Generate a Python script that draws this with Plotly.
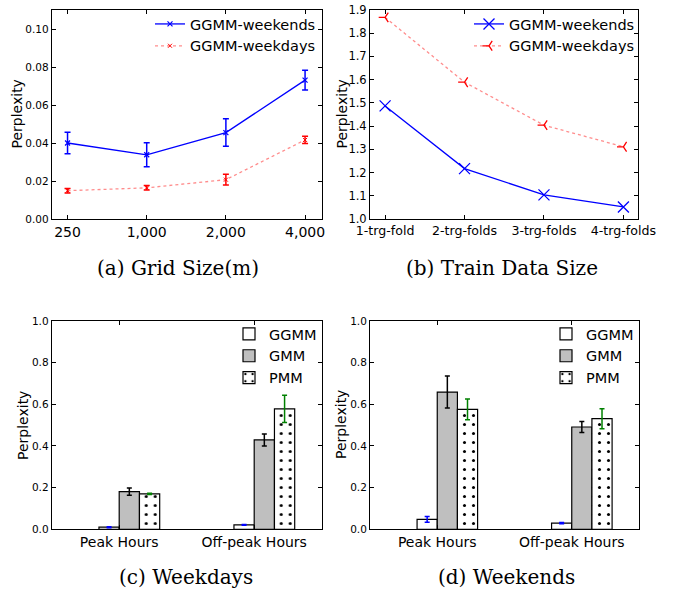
import plotly.graph_objects as go

# ---------------- data ----------------
# (a) Grid Size(m)
grid_sizes = ["250", "1,000", "2,000", "4,000"]
a_weekends = [0.0400, 0.0338, 0.0455, 0.0731]
a_weekends_err = [0.0057, 0.0063, 0.0072, 0.0052]
a_weekdays = [0.0149, 0.0164, 0.0207, 0.0416]
a_weekdays_err = [0.0012, 0.0012, 0.0028, 0.0019]

# (b) Train Data Size
train_sizes = ["1-trg-fold", "2-trg-folds", "3-trg-folds", "4-trg-folds"]
b_weekends = [1.487, 1.217, 1.104, 1.052]
b_weekdays = [1.868, 1.589, 1.404, 1.311]

# (c) Weekdays / (d) Weekends
periods = ["Peak Hours", "Off-peak Hours"]
models = ["GGMM", "GMM", "PMM"]
c_ggmm = [0.010, 0.021]
c_ggmm_err = [0.002, 0.002]
c_gmm = [0.181, 0.429]
c_gmm_err = [0.017, 0.029]
c_pmm = [0.170, 0.578]
c_pmm_err = [0.003, 0.065]
d_ggmm = [0.048, 0.030]
d_ggmm_err = [0.014, 0.003]
d_gmm = [0.659, 0.491]
d_gmm_err = [0.077, 0.026]
d_pmm = [0.576, 0.531]
d_pmm_err = [0.050, 0.048]

captions = ["(a) Grid Size(m)", "(b) Train Data Size", "(c) Weekdays", "(d) Weekends"]

# ---------------- layout helpers ----------------
W, H = 673, 593
def px_x(v):
    return v / W
def px_y(v):
    return 1 - v / H

BLUE = "#0000ff"
RED = "#ff0000"
PINK = "rgba(255,0,0,0.45)"
GREEN = "#008000"
SANS = "DejaVu Sans"

fig = go.Figure()

# ---- (a)
fig.add_trace(go.Scatter(
    x=grid_sizes, y=a_weekends, mode="lines+markers", name="GGMM-weekends",
    line=dict(color=BLUE, width=1.3),
    marker=dict(symbol="x-thin", size=5, line=dict(color=BLUE, width=1.2)),
    error_y=dict(type="data", array=a_weekends_err, color=BLUE, thickness=1.5, width=3),
    xaxis="x", yaxis="y", legend="legend"))
fig.add_trace(go.Scatter(
    x=grid_sizes, y=a_weekdays, mode="lines+markers", name="GGMM-weekdays",
    line=dict(color=PINK, width=1.3, dash="dot"),
    marker=dict(symbol="x-thin", size=4, line=dict(color=RED, width=1)),
    error_y=dict(type="data", array=a_weekdays_err, color=RED, thickness=1.5, width=3),
    xaxis="x", yaxis="y", legend="legend"))

# ---- (b)
fig.add_trace(go.Scatter(
    x=train_sizes, y=b_weekends, mode="lines+markers", name="GGMM-weekends",
    line=dict(color=BLUE, width=1.3),
    marker=dict(symbol="x-thin", size=11, line=dict(color=BLUE, width=1.3)),
    xaxis="x2", yaxis="y2", legend="legend2"))
fig.add_trace(go.Scatter(
    x=train_sizes, y=b_weekdays, mode="lines+markers", name="GGMM-weekdays",
    line=dict(color=PINK, width=1.3, dash="dot"),
    marker=dict(symbol="y-left", size=8, line=dict(color=RED, width=1.3)),
    xaxis="x2", yaxis="y2", legend="legend2"))

# ---- (c), (d) bars
bar_w = 0.15
ind = list(range(len(periods)))
bar_styles = {
    "GGMM": dict(color="white", pattern=None, err=BLUE),
    "GMM": dict(color="#bfbfbf", pattern=None, err="black"),
    "PMM": dict(color="white", pattern=dict(shape=".", fgcolor="black", bgcolor="white",
                                            fgopacity=1, size=9, solidity=0.09), err=GREEN),
}
panels = [
    ("x3", "y3", "legend3", [c_ggmm, c_gmm, c_pmm], [c_ggmm_err, c_gmm_err, c_pmm_err]),
    ("x4", "y4", "legend4", [d_ggmm, d_gmm, d_pmm], [d_ggmm_err, d_gmm_err, d_pmm_err]),
]
for xa, ya, lg, vals, errs in panels:
    for k, m in enumerate(models):
        st = bar_styles[m]
        marker = dict(color=st["color"], line=dict(color="black", width=1.2))
        if st["pattern"] is not None:
            marker["pattern"] = st["pattern"]
        fig.add_trace(go.Bar(
            x=ind, y=vals[k], name=m, offset=k * bar_w, width=bar_w,
            marker=marker,
            error_y=dict(type="data", array=errs[k], color=st["err"], thickness=1.5, width=2.5),
            xaxis=xa, yaxis=ya, legend=lg))

# ---------------- axes ----------------
axis_common = dict(showline=True, linecolor="black", linewidth=1, mirror="ticks",
                   ticks="inside", ticklen=4, tickcolor="black", tickwidth=1,
                   showgrid=False, zeroline=False, automargin=False)

ax_a = [51.7, 321.7]
ax_b = [370, 637.7]
ax_d = [370, 639]
ay_top = [10, 219]
ay_bot = [321, 529.3]

fig.update_layout(
    xaxis=dict(domain=[px_x(ax_a[0]), px_x(ax_a[1])], type="category", range=[-0.2, 3.21],
               anchor="y", tickfont=dict(family=SANS, size=14, color="black"), **axis_common),
    yaxis=dict(domain=[px_y(ay_top[1]), px_y(ay_top[0])], range=[0, 0.11], dtick=0.02,
               tickformat=".2f", anchor="x",
               tickfont=dict(family=SANS, size=10.5, color="black"), **axis_common),
    xaxis2=dict(domain=[px_x(ax_b[0]), px_x(ax_b[1])], type="category", range=[-0.19, 3.18],
                anchor="y2", tickfont=dict(family=SANS, size=12.6, color="black"), **axis_common),
    yaxis2=dict(domain=[px_y(ay_top[1]), px_y(ay_top[0])], range=[1.0, 1.9], dtick=0.1,
                tickformat=".1f", anchor="x2",
                tickfont=dict(family=SANS, size=11.5, color="black"), **axis_common),
    xaxis3=dict(domain=[px_x(ax_a[0]), px_x(ax_a[1])], range=[-0.35, 1.65],
                tickvals=[i + bar_w for i in ind], ticktext=periods, anchor="y3",
                tickfont=dict(family=SANS, size=14, color="black"), **axis_common),
    yaxis3=dict(domain=[px_y(ay_bot[1]), px_y(ay_bot[0])], range=[0, 1.0], dtick=0.2,
                tickformat=".1f", anchor="x3",
                tickfont=dict(family=SANS, size=10.5, color="black"), **axis_common),
    xaxis4=dict(domain=[px_x(ax_d[0]), px_x(ax_d[1])], range=[-0.35, 1.65],
                tickvals=[i + bar_w for i in ind], ticktext=periods, anchor="y4",
                tickfont=dict(family=SANS, size=14, color="black"), **axis_common),
    yaxis4=dict(domain=[px_y(ay_bot[1]), px_y(ay_bot[0])], range=[0, 1.0], dtick=0.2,
                tickformat=".1f", anchor="x4",
                tickfont=dict(family=SANS, size=10.5, color="black"), **axis_common),
)

# ---------------- legends ----------------
leg_common = dict(xanchor="left", yanchor="top", bgcolor="rgba(0,0,0,0)",
                  borderwidth=0, tracegroupgap=0, itemwidth=30,
                  font=dict(family=SANS, size=14.5, color="black"))
fig.update_layout(
    legend=dict(x=px_x(150), y=px_y(8), **leg_common),
    legend2=dict(x=px_x(469), y=px_y(8), **leg_common),
    legend3=dict(x=px_x(229), y=px_y(318), **leg_common),
    legend4=dict(x=px_x(546), y=px_y(318), **leg_common),
)

# ---------------- annotations ----------------
annots = []
for (xp, yp) in [(16, 114.5), (341, 114.5), (23, 425), (341, 425)]:
    annots.append(dict(text="Perplexity", x=px_x(xp), y=px_y(yp), xref="paper", yref="paper",
                       showarrow=False, textangle=-90, xanchor="center", yanchor="middle",
                       font=dict(family=SANS, size=14, color="black")))
for cap, (xp, yp) in zip(captions, [(178, 268), (502, 268), (186, 577), (506, 577)]):
    annots.append(dict(text=cap, x=px_x(xp), y=px_y(yp), xref="paper", yref="paper",
                       showarrow=False, xanchor="center", yanchor="middle",
                       font=dict(family="DejaVu Serif", size=20, color="black")))

fig.update_layout(
    width=W, height=H, margin=dict(l=0, r=0, t=0, b=0, autoexpand=False),
    paper_bgcolor="white", plot_bgcolor="white",
    barmode="overlay", showlegend=True, annotations=annots,
)

fig.write_html(
    "out.html",
    config={"displayModeBar": False},
    post_script="document.body.style.margin='0';document.body.style.overflow='hidden';",
)
